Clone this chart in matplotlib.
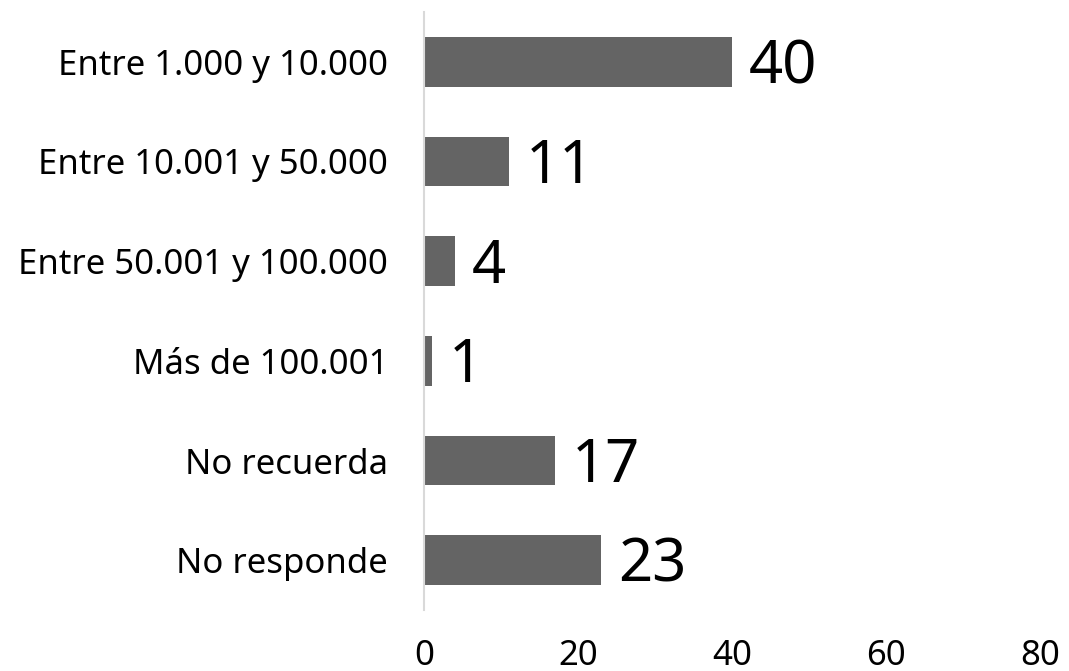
import matplotlib

matplotlib.use("Agg")
from matplotlib import pyplot as plt

categories = [
    "Entre 1.000 y 10.000",
    "Entre 10.001 y 50.000",
    "Entre 50.001 y 100.000",
    "Más de 100.001",
    "No recuerda",
    "No responde",
]
values = [40, 11, 4, 1, 17, 23]
x_ticks = [0, 20, 40, 60, 80]

plt.rcParams["font.family"] = ["Noto Sans", "DejaVu Sans"]

W, H = 1069, 671
fig = plt.figure(figsize=(W / 100, H / 100), dpi=100)
ax = fig.add_axes([424 / W, 1 - 610 / H, (1040 - 424) / W, (610 - 12) / H])

pos = list(range(len(categories)))
ax.barh(pos, values, height=0.5, color="#646464")
ax.set_ylim(5.5, -0.5)
ax.set_xlim(0, 80)

# value labels sit just right of each bar end
for p, v in zip(pos, values):
    ax.annotate(str(v), xy=(v, p), xytext=(12, -4), textcoords="offset points",
                va="center", ha="left", fontsize=43, color="black")

ax.set_yticks(pos)
ax.set_yticklabels(categories, fontsize=25)
ax.set_xticks(x_ticks)
ax.set_xticklabels([str(t) for t in x_ticks], fontsize=25)
ax.tick_params(axis="y", length=0, pad=26)
ax.tick_params(axis="x", length=0, pad=21)

for side in ("top", "right", "bottom"):
    ax.spines[side].set_visible(False)
ax.spines["left"].set_color("#d9d9d9")
ax.spines["left"].set_linewidth(1.5)

fig.savefig("out.png", dpi=100)
